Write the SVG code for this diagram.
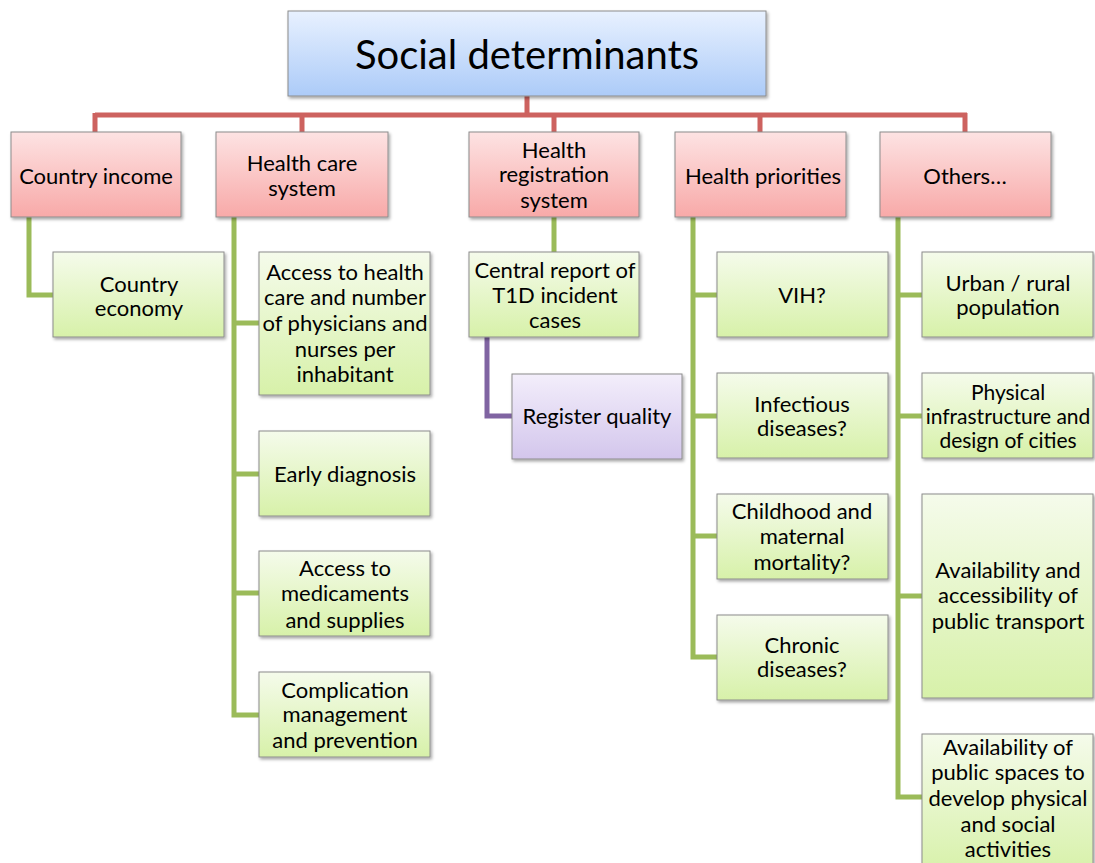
<svg xmlns="http://www.w3.org/2000/svg" width="1095" height="863" viewBox="0 0 1095 863">
<defs>
<linearGradient id="gBlue" x1="0" y1="0" x2="0" y2="1"><stop offset="0" stop-color="#e8f1ff"/><stop offset="1" stop-color="#accbf8"/></linearGradient>
<linearGradient id="gRed" x1="0" y1="0" x2="0" y2="1"><stop offset="0" stop-color="#fde3e3"/><stop offset="1" stop-color="#f8a9a8"/></linearGradient>
<linearGradient id="gGreen" x1="0" y1="0" x2="0" y2="1"><stop offset="0" stop-color="#f5fbeb"/><stop offset="1" stop-color="#d7f1a9"/></linearGradient>
<linearGradient id="gPurple" x1="0" y1="0" x2="0" y2="1"><stop offset="0" stop-color="#f3eefb"/><stop offset="1" stop-color="#d3c6ec"/></linearGradient>
<filter id="sh" x="-10%" y="-10%" width="120%" height="130%"><feDropShadow dx="1.5" dy="2" stdDeviation="1.5" flood-color="#000" flood-opacity="0.35"/></filter>
</defs>
<style>
.box{stroke:#8c8c8c;stroke-width:1;filter:url(#sh)}
.blue{fill:url(#gBlue)}
.red{fill:url(#gRed)}
.green{fill:url(#gGreen)}
.purple{fill:url(#gPurple)}
text{font-family:Lato,"Liberation Sans",sans-serif;font-size:22px;fill:#000;text-anchor:middle;dominant-baseline:central}
.title{font-size:40px}
.sm{font-size:21px}
.cr{stroke:#cd625f;stroke-width:5;fill:none}
.cg{stroke:#9bbb59;stroke-width:5;fill:none}
.cp{stroke:#8064a2;stroke-width:5;fill:none}
</style>
<g id="connectors">
<path class="cr" d="M527 96V115M95 115H967M95 113V132M302 113V132M554 113V132M760 113V132M965 113V132"/>
<path class="cg" d="M29 217V295H53"/>
<path class="cg" d="M234 217V715H259M234 323H259M234 474H259M234 593H259"/>
<path class="cg" d="M554 217V252"/>
<path class="cp" d="M487 337V416H512"/>
<path class="cg" d="M693 217V657H717M693 295H717M693 416H717M693 536H717"/>
<path class="cg" d="M898 217V797H922M898 295H922M898 416H922M898 596H922"/>
</g>
<g id="root"><rect class="box blue" x="288" y="11" width="478" height="85"/><text class="title" x="527" y="54">Social determinants</text></g>
<g id="country-income"><rect class="box red" x="11" y="132" width="170" height="85"/><text x="96" y="175">Country income</text></g>
<g id="health-care-system"><rect class="box red" x="216" y="132" width="172" height="85"/><text x="302" y="162">Health care</text><text x="302" y="187">system</text></g>
<g id="health-registration-system"><rect class="box red" x="469" y="132" width="170" height="85"/><text x="554" y="149">Health</text><text x="554" y="173">registration</text><text x="554" y="199">system</text></g>
<g id="health-priorities"><rect class="box red" x="675" y="132" width="171" height="85"/><text x="763" y="175">Health priorities</text></g>
<g id="others"><rect class="box red" x="880" y="132" width="171" height="85"/><text x="965" y="175">Others…</text></g>
<g id="country-economy"><rect class="box green" x="53" y="252" width="171" height="85"/><text x="139" y="283">Country</text><text x="139" y="307">economy</text></g>
<g id="access-health-care"><rect class="box green" x="259" y="252" width="171" height="143"/><text x="345" y="271">Access to health</text><text x="345" y="296">care and number</text><text x="345" y="322">of physicians and</text><text x="345" y="348">nurses per</text><text x="345" y="373">inhabitant</text></g>
<g id="early-diagnosis"><rect class="box green" x="259" y="431" width="171" height="85"/><text x="345" y="473">Early diagnosis</text></g>
<g id="access-medicaments"><rect class="box green" x="259" y="551" width="171" height="85"/><text x="345" y="567">Access to</text><text x="345" y="592">medicaments</text><text x="345" y="619">and supplies</text></g>
<g id="complication"><rect class="box green" x="259" y="672" width="171" height="85"/><text x="345" y="689">Complication</text><text x="345" y="713">management</text><text x="345" y="739">and prevention</text></g>
<g id="central-report"><rect class="box green" x="469" y="252" width="170" height="85"/><text x="555" y="269">Central report of</text><text x="555" y="294">T1D incident</text><text x="555" y="319">cases</text></g>
<g id="register-quality"><rect class="box purple" x="512" y="374" width="170" height="85"/><text x="597" y="415">Register quality</text></g>
<g id="vih"><rect class="box green" x="717" y="252" width="171" height="85"/><text x="802" y="294">VIH?</text></g>
<g id="infectious"><rect class="box green" x="717" y="373" width="171" height="85"/><text x="802" y="403">Infectious</text><text x="802" y="427">diseases?</text></g>
<g id="childhood"><rect class="box green" x="717" y="494" width="171" height="85"/><text x="802" y="510">Childhood and</text><text x="802" y="535">maternal</text><text x="802" y="561">mortality?</text></g>
<g id="chronic"><rect class="box green" x="717" y="615" width="171" height="85"/><text x="802" y="644">Chronic</text><text x="802" y="668">diseases?</text></g>
<g id="urban-rural"><rect class="box green" x="922" y="252" width="171" height="85"/><text x="1008" y="282">Urban / rural</text><text x="1008" y="306">population</text></g>
<g id="physical-infrastructure"><rect class="box green" x="922" y="373" width="171" height="85"/><text class="sm" x="1008" y="391">Physical</text><text class="sm" x="1008" y="415">infrastructure and</text><text class="sm" x="1008" y="439">design of cities</text></g>
<g id="public-transport"><rect class="box green" x="922" y="494" width="171" height="204"/><text x="1008" y="569">Availability and</text><text x="1008" y="594">accessibility of</text><text x="1008" y="620">public transport</text></g>
<g id="public-spaces"><rect class="box green" x="922" y="734" width="171" height="140"/><text x="1008" y="746">Availability of</text><text x="1008" y="771">public spaces to</text><text x="1008" y="797">develop physical</text><text x="1008" y="823">and social</text><text x="1008" y="848">activities</text></g>
</svg>
